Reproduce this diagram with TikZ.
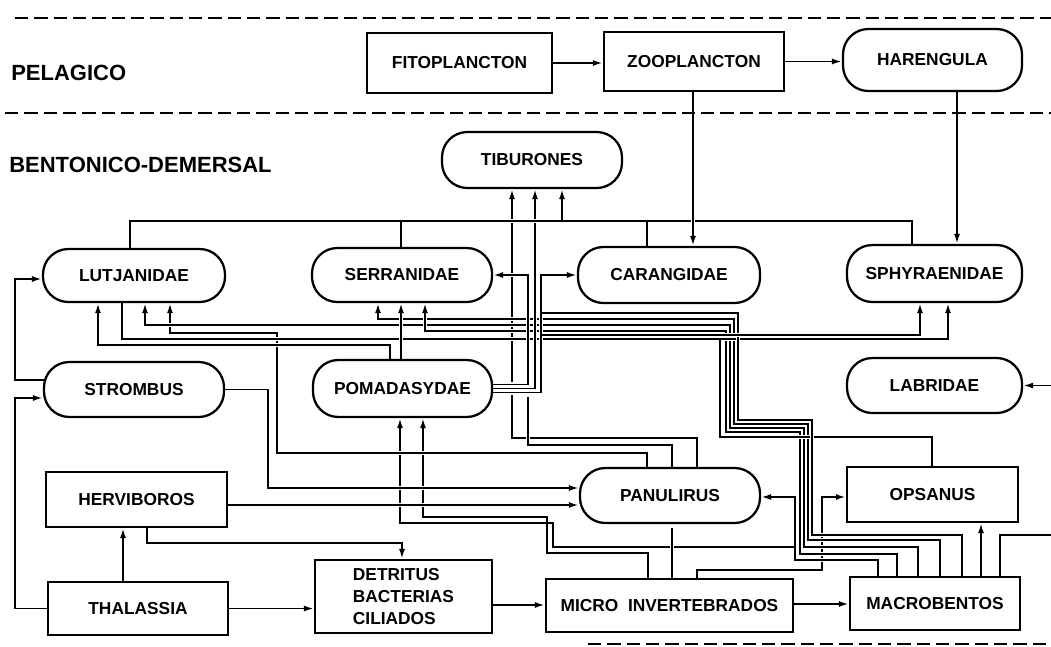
\documentclass[tikz,border=0pt]{standalone}
\usepackage{fontspec}
\setmainfont{Liberation Sans}
\usetikzlibrary{arrows.meta}
\pgfdeclarelayer{bg}
\pgfsetlayers{bg,main}
\begin{document}
\begin{tikzpicture}[x=0.75pt,y=-0.75pt,
  every node/.style={font=\fontsize{13}{16.5}\selectfont\bfseries},
  box/.style={draw,line width=1.7pt,fill=white,inner sep=0pt},
  pill/.style={box,rounded corners=19pt},
  ln/.style={line width=1.4pt},
  arr/.style={ln,-{Latex[length=7.5pt,width=4.5pt]}},
  br/.style={preaction={draw=white,line width=3.5pt,-,shorten <=2.5pt,shorten >=2.5pt}},
  sep/.style={line width=1.9pt,dash pattern=on 10pt off 4.5pt},
  zone/.style={font=\fontsize{16.5}{20}\selectfont\bfseries,anchor=west,inner sep=0pt}]
\useasboundingbox (0,0) rectangle (1051,647);
\clip (0,0) rectangle (1051,647);

% zone labels
\node[zone] (pel) at (11,72.5) {PELAGICO};
\node[zone] (ben) at (9,165) {BENTONICO-DEMERSAL};

% nodes
\node[box,minimum width=138.75pt,minimum height=45pt] (fito) at (459.5,63) {FITOPLANCTON};
\node[box,minimum width=135pt,minimum height=44.25pt] (zoo) at (694,61.5) {ZOOPLANCTON};
\node[pill,minimum width=134.25pt,minimum height=46.5pt] (har) at (932.5,60) {HARENGULA};
\node[pill,minimum width=135pt,minimum height=42pt] (tib) at (532,160) {TIBURONES};
\node[pill,minimum width=136.5pt,minimum height=39.75pt] (lut) at (134,275.5) {LUTJANIDAE};
\node[pill,minimum width=135pt,minimum height=40.5pt] (ser) at (402,275) {SERRANIDAE};
\node[pill,minimum width=136.5pt,minimum height=42pt] (car) at (669,275) {CARANGIDAE};
\node[pill,minimum width=131.25pt,minimum height=42.75pt] (sph) at (934.5,273.5) {SPHYRAENIDAE};
\node[pill,minimum width=135pt,minimum height=41.25pt] (str) at (134,389.5) {STROMBUS};
\node[pill,minimum width=134.25pt,minimum height=42.75pt] (pom) at (402.5,388.5) {POMADASYDAE};
\node[pill,minimum width=131.25pt,minimum height=41.25pt] (lab) at (934.5,385.5) {LABRIDAE};
\node[box,minimum width=135.75pt,minimum height=41.25pt] (her) at (136.5,499.5) {HERVIBOROS};
\node[box,minimum width=135pt,minimum height=39.75pt] (tha) at (138,608.5) {THALASSIA};
\node[box,minimum width=132.75pt,minimum height=54.75pt,align=left] (det) at (403.5,596.5) {DETRITUS\\BACTERIAS\\CILIADOS};
\node[pill,minimum width=135pt,minimum height=41.25pt] (pan) at (670,495.5) {PANULIRUS};
\node[box,minimum width=128.25pt,minimum height=41.25pt] (ops) at (932.5,494.5) {OPSANUS};
\node[box,minimum width=185.25pt,minimum height=39.75pt] (mic) at (669.5,605.5) {MICRO\ \ INVERTEBRADOS};
\node[box,minimum width=127.5pt,minimum height=39.75pt] (mac) at (935,603.5) {MACROBENTOS};

\coordinate (jb) at (562,221);
\coordinate (jp) at (795,547);
\coordinate (jc) at (541,313);
\coordinate (jd) at (541,335);
\coordinate (jo) at (720,339);
\coordinate (js) at (528,397);

\begin{pgfonlayer}{bg}
% early plain lines
\draw[arr] (pan.north -| 697,0) |- (512,438) -- (tib.south -| 512,0);
\draw[arr] (mic.north -| 697,0) |- (822,570) -- (822,497) -- (ops.west |- 0,497);
\draw[arr,br] (mac.north -| 878,0) |- (795,560) -- (795,497) -- (pan.east |- 0,497);
\draw[arr] (mic.north -| 648,0) |- (547,553) |- (423,517) -- (pom.south -| 423,0);
\draw[arr] (jp) -- (553,547) |- (400,523) -- (pom.south -| 400,0);
% bridged lines
\draw[arr,br] (pan.north -| 647,0) |- (277,453) -- (277,333) -- (170,333) -- (lut.south -| 170,0);
\draw[arr,br] (str.east) -| (268,488) -- (pan.west |- 0,488);
\draw[arr,br] (her.east |- 0,505) -- (pan.west |- 0,505);
\draw[ln,br] (mic.north -| 672,0) -- (672,528);
% bundle from macrobentos
\draw[arr,br] (mac.north -| 940,0) |- (808,540) |- (734,424) |- (378,319) -- (ser.south -| 378,0);
\draw[arr,br] (mac.north -| 918,0) |- (804,547) |- (730,428) |- (145,325) -- (lut.south -| 145,0);
\draw[arr,br] (mac.north -| 897,0) |- (800,554) |- (726,432) |- (425,331) -- (ser.south -| 425,0);
\draw[arr,br] (lut.south -| 122,0) |- (948,339) -- (sph.south -| 948,0);
\draw[ln,br] (ops.north -| 932,0) |- (720,437) -- (jo);
\draw[arr,br] (pom.north -| 401,0) -- (ser.south -| 401,0);
\draw[arr,br] (pom.north -| 390,0) |- (98,345) -- (lut.south -| 98,0);
% pomadasydae to the right
\draw[arr,br] ([yshift=3pt]pom.east) -| (528,275) -- (ser.east);
\draw[arr,br] (pom.east) -| (tib.south -| 535,0);
\draw[arr,br] ([yshift=-3pt]pom.east) -| (541,275) -- (car.west);
\draw[ln,br] (mac.north -| 962,0) |- (812,535) |- (738,420) |- (jc);
\draw[arr,br] (jd) -- (920,335) -- (sph.south -| 920,0);
\draw[ln,br] (pan.north -| 672,0) |- (528,445) -- (js);
% bus to tiburones
\draw[ln,br] (lut.north -| 130,0) |- (912,221) -- (sph.north -| 912,0);
\draw[ln] (ser.north -| 401,0) -- (401,221);
\draw[ln] (car.north -| 647,0) -- (647,221);
\draw[arr] (jb) -- (tib.south -| 562,0);
\draw[arr,br] (zoo.south -| 693,0) -- (car.north -| 693,0);
\draw[arr] (har.south -| 957,0) -- (sph.north -| 957,0);
% top and lower left
\draw[arr] (fito.east) -- (fito.east -| zoo.west);
\draw[arr] (zoo.east) -- (zoo.east -| har.west);
\draw[arr] (tha.north -| 123,0) -- (her.south -| 123,0);
\draw[arr] (her.south -| 147,0) |- (402,543) -- (det.north -| 402,0);
\draw[arr] (tha.east) -- (tha.east -| det.west);
\draw[arr] (tha.west) -| (15,398) -- (str.west |- 0,398);
\draw[arr] ([xshift=1.5pt,yshift=7pt]str.west) -| (15,279) -- (lut.west |- 0,279);
\draw[arr] (det.east |- 0,605) -- (mic.west |- 0,605);
\draw[arr] (mic.east |- 0,604) -- (mac.west |- 0,604);
\draw[arr] (mac.north -| 981,0) -- (ops.south -| 981,0);
\draw[arr] (mac.north -| 1000,0) |- (1060,535) |- (lab.east);
% zone separators
\draw[sep] (15,18) -- (1051,18);
\draw[sep] (5,113) -- (1051,113);
\draw[sep] (588,644) -- (1051,644);
\end{pgfonlayer}
\end{tikzpicture}
\end{document}
